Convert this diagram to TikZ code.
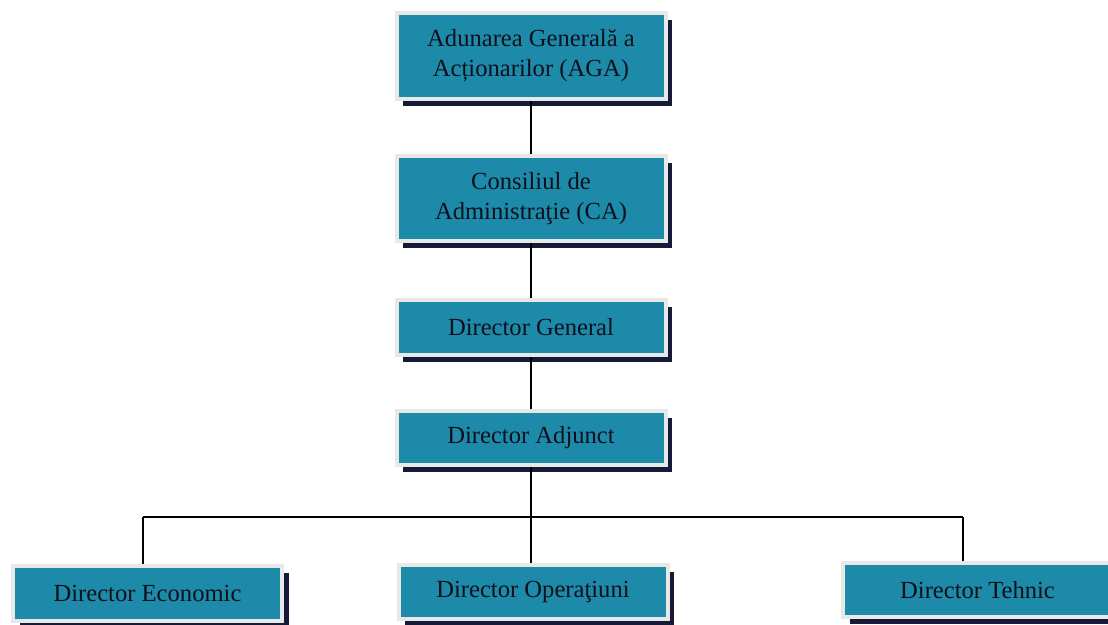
\documentclass[tikz,border=0pt]{standalone}
\usepackage{fontspec}
\setmainfont{Liberation Serif}
\usetikzlibrary{shadows}
\definecolor{boxteal}{RGB}{28,138,168}
\definecolor{boxshadow}{RGB}{22,26,58}
\definecolor{boxframe}{RGB}{232,232,230}
\definecolor{boxtext}{RGB}{16,16,28}
\begin{document}
\begin{tikzpicture}[
    orgbox/.style={rectangle, fill=boxteal, draw=boxframe, line width=0.08cm,
        minimum width=5.38cm, text=boxtext, align=center, inner sep=0pt,
        font=\fontsize{14}{17}\selectfont,
        drop shadow={shadow xshift=0.13cm, shadow yshift=-0.14cm, fill=boxshadow, opacity=1}},
    link/.style={line width=1.2pt, black}
]
                    \useasboundingbox (0,0) rectangle (22.16,-12.5);
                    \fill[white] (0,0) rectangle (22.16,-12.5);
                    \clip (0,0) rectangle (22.16,-12.5);
                    \node[orgbox, minimum height=1.72cm] (aga) at (10.62,-1.12) {Adunarea Generală a\\Acționarilor (AGA)};
                    \node[orgbox, minimum height=1.70cm] (ca)  at (10.62,-3.97) {Consiliul de\\Administraţie (CA)};
                    \node[orgbox, minimum height=1.10cm] (dg)  at (10.62,-6.55) {Director General};
                    \node[orgbox, minimum height=1.08cm] (da)  at (10.62,-8.76) {Director Adjunct};
                    \node[orgbox, minimum height=1.10cm] (dec) at (2.95,-11.87)  {Director Economic};
                    \node[orgbox, minimum height=1.08cm] (dop) at (10.66,-11.84) {Director Operaţiuni};
                    \node[orgbox, minimum height=1.08cm] (dte) at (19.55,-11.80) {Director Tehnic};
                    \coordinate (busl) at (2.86,-10.34);
                    \coordinate (busr) at (19.26,-10.34);
                    \draw[link] (aga.south) -- (ca.north);
                    \draw[link] (ca.south) -- (dg.north);
                    \draw[link] (dg.south) -- (da.north);
                    \draw[link] (da.south) -- (da.south |- dop.north);
                    \draw[link] (busl) -- (busr);
                    \draw[link] (busl) -- (busl |- dec.north);
                    \draw[link] (busr) -- (busr |- dte.north);
\end{tikzpicture}
\end{document}
